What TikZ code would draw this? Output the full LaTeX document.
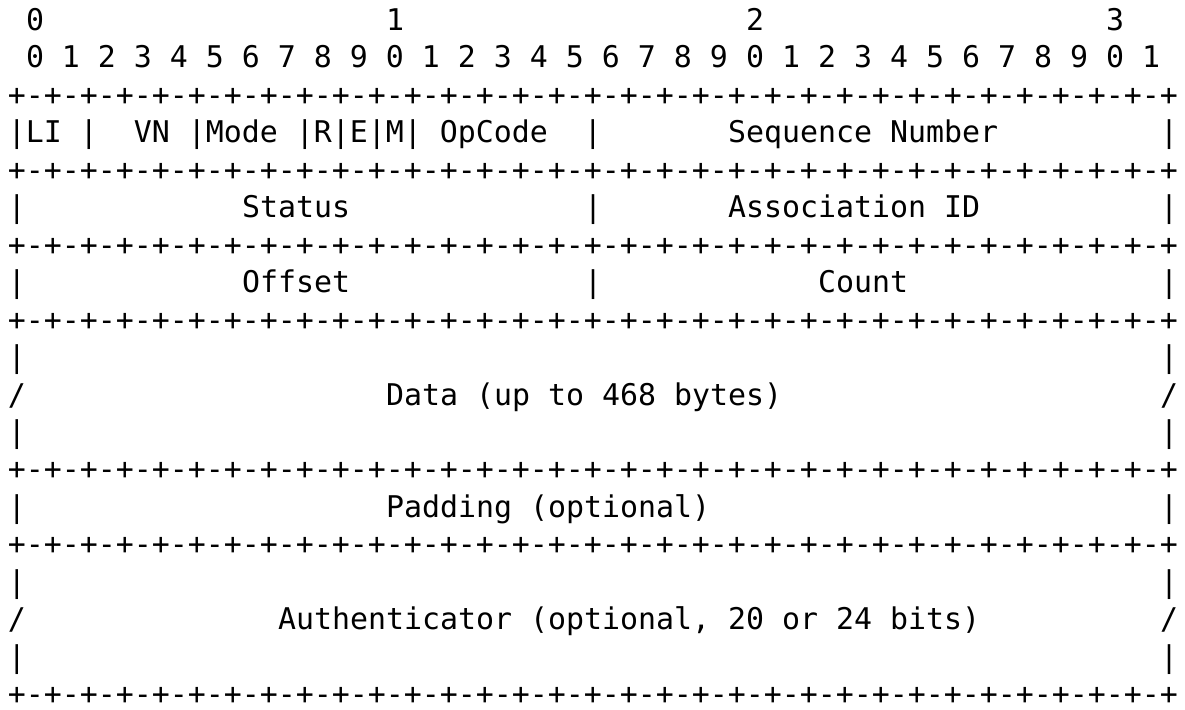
\documentclass[tikz,border=0pt]{standalone}
\usepackage{fontspec}
\newfontfamily\asciifont{DejaVu Sans Mono}
\ExplSyntaxOn
\cs_new:Npn \asciisp #1 { \prg_replicate:nn {#1} { \nobreakspace } }
\ExplSyntaxOff
\newcommand\asciisep{+-+-+-+-+-+-+-+-+-+-+-+-+-+-+-+-+-+-+-+-+-+-+-+-+-+-+-+-+-+-+-+-+}
\tikzset{
  row/.style={anchor=base west, inner sep=0pt, outer sep=0pt,
    font=\asciifont\fontsize{29.9}{36}\selectfont, text=black}
}
\begin{document}
\begin{tikzpicture}[x=1pt,y=-1pt]
\useasboundingbox[fill=white] (0,0) rectangle (1185,709);
\def\ry#1{{30.5+37.45*#1}}
\node[row] (r0) at (26,\ry{0}) {0\asciisp{19}1\asciisp{19}2\asciisp{19}3};
\node[row] (r1) at (26,\ry{1}) {0~1~2~3~4~5~6~7~8~9~0~1~2~3~4~5~6~7~8~9~0~1~2~3~4~5~6~7~8~9~0~1};
\node[row] (r2) at (8,\ry{2}) {\asciisep};
\node[row] (r3) at (8,\ry{3}) {|LI~|~~VN~|Mode~|R|E|M|~OpCode~~|\asciisp{7}Sequence~Number\asciisp{9}|};
\node[row] (r4) at (8,\ry{4}) {\asciisep};
\node[row] (r5) at (8,\ry{5}) {|\asciisp{12}Status\asciisp{13}|\asciisp{7}Association~ID\asciisp{10}|};
\node[row] (r6) at (8,\ry{6}) {\asciisep};
\node[row] (r7) at (8,\ry{7}) {|\asciisp{12}Offset\asciisp{13}|\asciisp{12}Count\asciisp{14}|};
\node[row] (r8) at (8,\ry{8}) {\asciisep};
\node[row] (r9) at (8,\ry{9}) {|\asciisp{63}|};
\node[row] (r10) at (8,\ry{10}) {/\asciisp{20}Data~(up~to~468~bytes)\asciisp{21}/};
\node[row] (r11) at (8,\ry{11}) {|\asciisp{63}|};
\node[row] (r12) at (8,\ry{12}) {\asciisep};
\node[row] (r13) at (8,\ry{13}) {|\asciisp{20}Padding~(optional)\asciisp{25}|};
\node[row] (r14) at (8,\ry{14}) {\asciisep};
\node[row] (r15) at (8,\ry{15}) {|\asciisp{63}|};
\node[row] (r16) at (8,\ry{16}) {/\asciisp{14}Authenticator~(optional,~20~or~24~bits)\asciisp{10}/};
\node[row] (r17) at (8,\ry{17}) {|\asciisp{63}|};
\node[row] (r18) at (8,\ry{18}) {\asciisep};
\end{tikzpicture}
\end{document}
